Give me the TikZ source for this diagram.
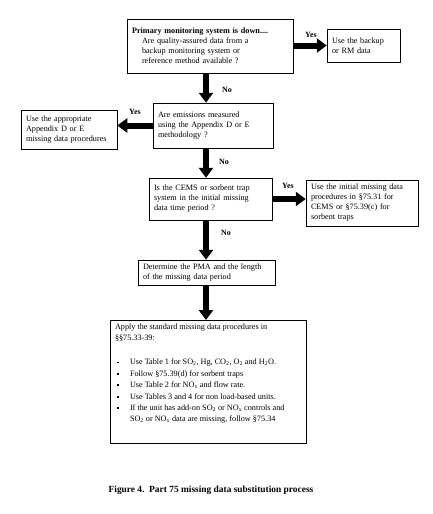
\documentclass[tikz,border=0pt]{standalone}
\usepackage{fontspec}
\setmainfont{Liberation Serif}
\usepackage{enumitem}
\usetikzlibrary{arrows.meta}
\tikzset{>=latex}
\tikzset{box/.style={draw, line width=.5pt, inner xsep=5pt, inner ysep=3pt, align=left,
  font=\fontsize{8.2}{10}\selectfont}}
\tikzset{bigarrow/.style={line width=6pt, -{Triangle[width=14pt, length=10pt]}}}
\tikzset{answer/.style={font=\fontsize{8}{10}\selectfont\bfseries}}
\newcommand{\sub}[1]{\textsubscript{#1}}
\newcommand{\sqbullet}{\raisebox{1.5pt}{\rule{1.8pt}{1.8pt}}}

\begin{document}
\begin{tikzpicture}[x=1pt, y=-1pt]
    \useasboundingbox (0, 0) rectangle (432, 514);
    % boxes
    \node[box, text width=156pt, minimum height=54pt] (prim) at (210, 46)
        {\textbf{Primary monitoring system is down....}\\
         \hspace*{10pt}Are quality-assured data from a\\
         \hspace*{10pt}backup monitoring system or\\
         \hspace*{10pt}reference method available ?};
    \node[box, text width=63pt, minimum height=33pt] (rm) at (363.5, 45.5)
        {Use the backup\\or RM data};
    \node[box, text width=110pt, minimum height=45pt] (appx) at (213, 125.5)
        {Are emissions measured\\using the Appendix D or E\\methodology ?};
    \node[box, text width=86pt, minimum height=39pt] (appxproc) at (69, 129.5)
        {Use the appropriate\\Appendix D or E\\missing data procedures};
    \node[box, text width=113pt, minimum height=42pt] (cems) at (210.5, 199)
        {Is the CEMS or sorbent trap\\system in the initial missing\\data time period ?};
    \node[box, text width=102pt, minimum height=46pt] (init) at (362, 203)
        {Use the initial missing data\\procedures in \S75.31 for\\CEMS or \S75.39(c) for\\sorbent traps};
    \node[box, text width=127pt, minimum height=25pt] (pma) at (206.5, 272.5)
        {Determine the PMA and the length\\of the missing data period};
    \node[box, anchor=north, inner ysep=4pt] (std) at (208, 320)
        {\parbox[t][115pt][t]{186pt}{\fontsize{8.2}{11}\selectfont\raggedright
         Apply the standard missing data procedures in\\\S\S75.33-39:\\[13pt]
         \begin{itemize}[leftmargin=15pt, labelsep=11pt, itemsep=.4pt, parsep=0pt, topsep=0pt,
             label=\sqbullet]
         \item Use Table 1 for SO\sub{2}, Hg, CO\sub{2}, O\sub{2} and H\sub{2}O.
         \item Follow \S75.39(d) for sorbent traps
         \item Use Table 2 for NO\sub{x} and flow rate.
         \item Use Tables 3 and 4 for non load-based units.
         \item If the unit has add-on SO\sub{2} or NO\sub{x} controls and\\
               SO\sub{2} or NO\sub{x} data are missing, follow \S75.34
         \end{itemize}}};
    % arrows
    \coordinate (col) at (206, 0);
    \draw[bigarrow] (prim.east |- rm.west) -- (rm.west);
    \draw[bigarrow] (appx.west) -- (appx.west -| appxproc.east);
    \draw[bigarrow] (cems.east) -- (cems.east -| init.west);
    \draw[bigarrow] (col |- prim.south) -- (col |- appx.north);
    \draw[bigarrow] (col |- appx.south) -- (col |- cems.north);
    \draw[bigarrow] (col |- cems.south) -- (col |- pma.north);
    \draw[bigarrow] (col |- pma.south) -- (col |- std.north);
    % labels
    \node[answer] (yes1) at (311, 35) {Yes};
    \node[answer] (yes2) at (135, 112) {Yes};
    \node[answer] (yes3) at (288, 186) {Yes};
    \node[answer] (no1) at (227, 90) {No};
    \node[answer] (no2) at (224, 162) {No};
    \node[answer] (no3) at (226, 233) {No};
    \node[answer, font=\fontsize{9.4}{11}\selectfont\bfseries] (caption) at (211, 490)
        {Figure 4.\ \ Part 75 missing data substitution process};
\end{tikzpicture}
\end{document}
